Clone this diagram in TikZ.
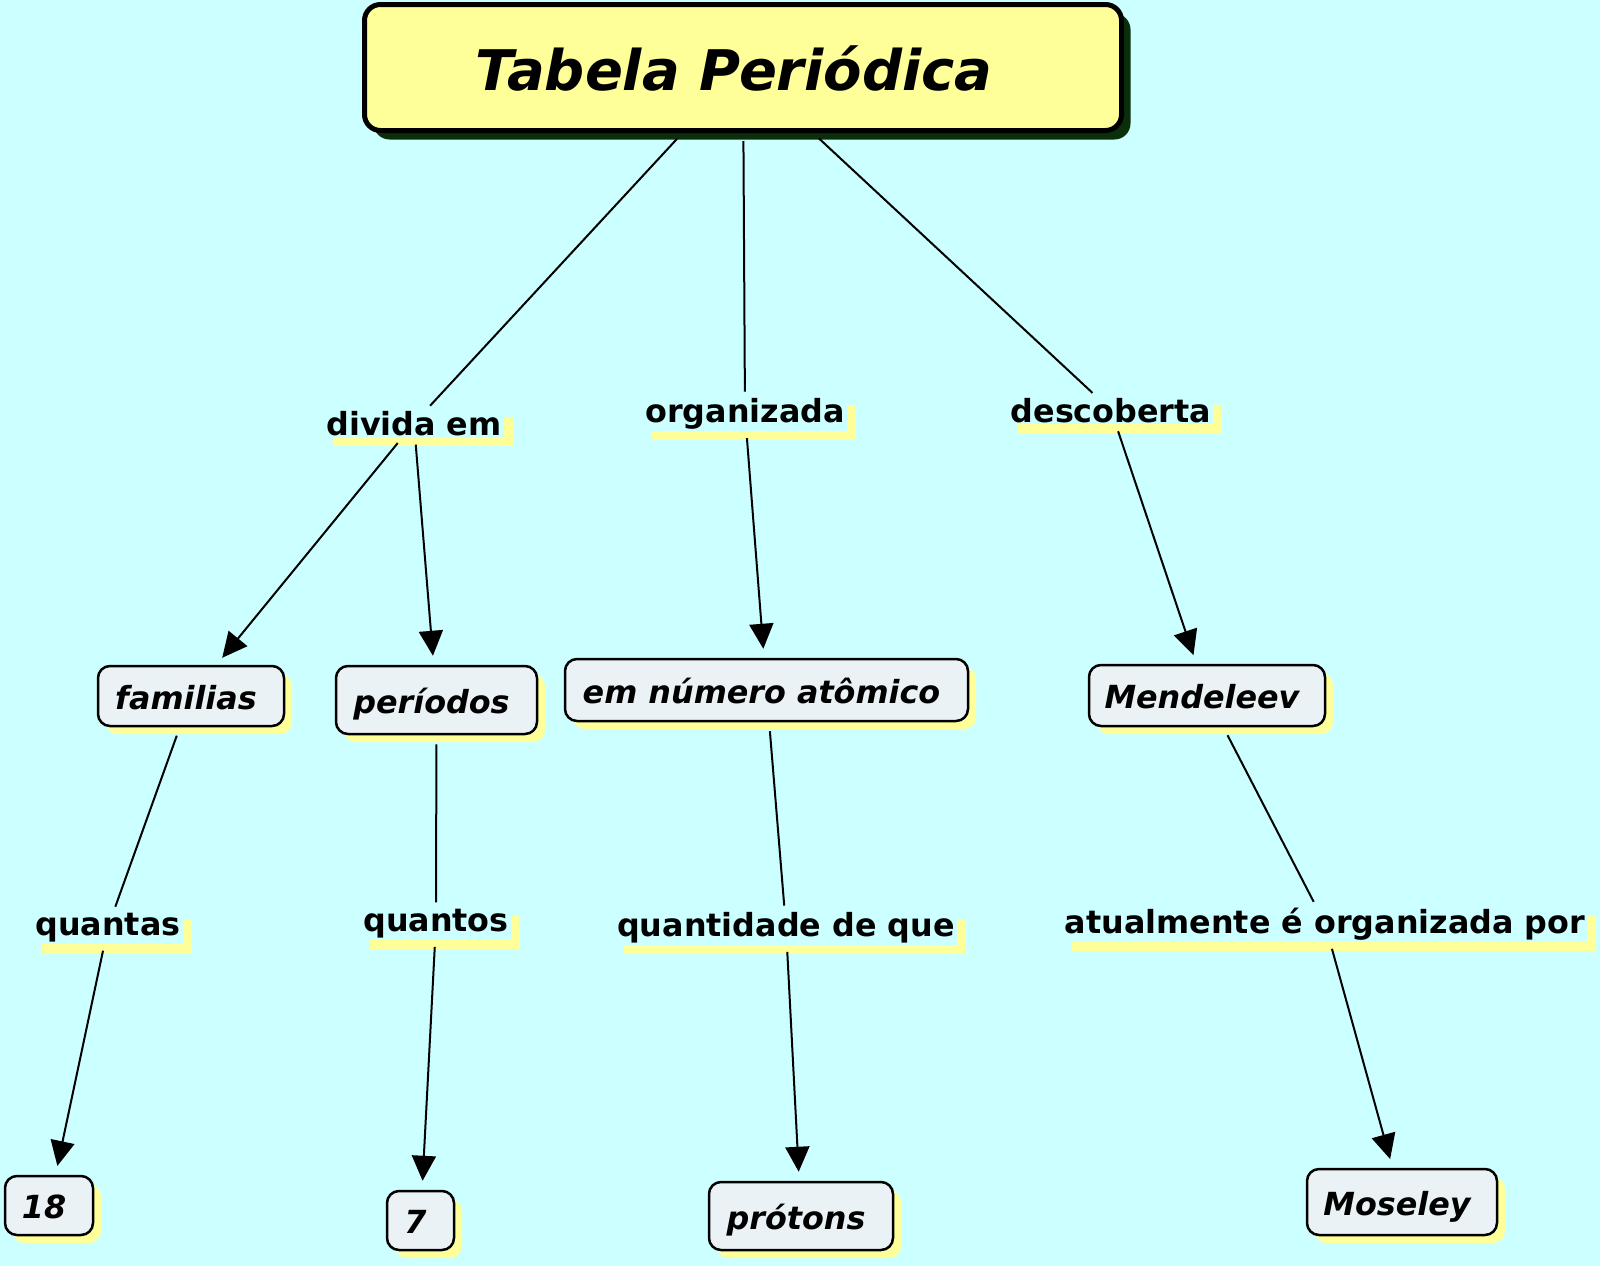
\documentclass[tikz,border=0pt]{standalone}
\usepackage{fontspec}
\setmainfont{DejaVu Sans}
\usetikzlibrary{shadows,arrows.meta}
\definecolor{bgc}{HTML}{CCFFFF}
\definecolor{titlefill}{HTML}{FFFF99}
\definecolor{titleshadow}{HTML}{0B2E0B}
\definecolor{conceptfill}{HTML}{EBF2F5}
\definecolor{ylw}{HTML}{FFFF99}
\begin{document}
\begin{tikzpicture}[x=1pt,y=-1pt,
  labelfont/.style={font=\fontsize{31.8}{38}\selectfont\bfseries},
  titlebox/.style={draw=black, line width=5pt, rounded corners=16pt, fill=titlefill,
    minimum width=757pt, minimum height=126pt, inner sep=0pt,
    font=\fontsize{56}{66}\selectfont\bfseries\itshape, text height=45pt, text depth=0pt,
    execute at begin node={\hspace*{-18pt}},
    general shadow={fill=titleshadow, shadow xshift=9pt, shadow yshift=-9pt}},
  concept/.style={draw=black, line width=2.5pt, rounded corners=12pt, fill=conceptfill,
    font=\fontsize{31.8}{38}\selectfont\bfseries\itshape, inner sep=0pt,
    text height=26pt, text depth=0pt,
    execute at begin node={\hspace*{-10pt}},
    general shadow={fill=ylw, shadow xshift=8pt, shadow yshift=-8pt}},
  linklabel/.style={labelfont, fill=bgc, inner xsep=2pt, inner ysep=2pt, anchor=base,
    general shadow={fill=ylw, shadow xshift=9pt, shadow yshift=-9pt}},
  conn/.style={line width=2pt, draw=black},
  arr/.style={conn, -{Triangle[length=25pt,width=24pt]}}]

\useasboundingbox[fill=bgc] (0,0) rectangle (1600,1266);

% title
\node[titlebox] (title) at (743,67.5) {Tabela Periódica};

% link labels
\node[linklabel] (divida) at (414,435) {divida em};
\node[linklabel] (organ) at (745,422) {organizada};
\node[linklabel] (desc) at (1111,422) {descoberta};
\node[linklabel] (quantas) at (108,935) {quantas};
\node[linklabel] (quantos) at (436,931) {quantos};
\node[linklabel] (qtd) at (786,936) {quantidade de que};
\node[linklabel] (atual) at (1325,933) {atualmente é organizada por};

% concepts
\node[concept, minimum width=186pt, minimum height=60pt] (fam) at (191,696) {familias};
\node[concept, minimum width=201pt, minimum height=68pt] (per) at (436.5,700) {períodos};
\node[concept, minimum width=403pt, minimum height=62pt] (num) at (766.5,690) {em número atômico};
\node[concept, minimum width=236pt, minimum height=61pt] (mend) at (1207,695.5) {Mendeleev};
\node[concept, minimum width=88pt, minimum height=59pt] (n18) at (49,1205.5) {18};
\node[concept, minimum width=67pt, minimum height=59pt] (n7) at (420.5,1220.5) {7};
\node[concept, minimum width=184pt, minimum height=68pt] (prot) at (801,1216) {prótons};
\node[concept, minimum width=190pt, minimum height=66pt] (mos) at (1402,1202) {Moseley};

% connectors
\draw[conn, shorten <=8pt, shorten >=4pt] (title) -- (divida);
\draw[conn, shorten <=8pt, shorten >=4pt] (title) -- (organ);
\draw[conn, shorten <=8pt, shorten >=4pt] (title) -- (desc);

\draw[arr, shorten <=7pt, shorten >=9pt] (divida) -- (fam);
\draw[arr, shorten <=7pt, shorten >=9pt] (divida) -- (per);
\draw[arr, shorten <=7pt, shorten >=9pt] (organ) -- (num);
\draw[arr, shorten <=7pt, shorten >=9pt] (desc) -- (mend);

\draw[conn, shorten <=9pt, shorten >=4pt] (fam) -- (quantas);
\draw[conn, shorten <=9pt, shorten >=4pt] (per) -- (quantos);
\draw[conn, shorten <=9pt, shorten >=4pt] (num) -- (qtd);
\draw[conn, shorten <=9pt, shorten >=4pt] (mend) -- (atual);

\draw[arr, shorten <=7pt, shorten >=9pt] (quantas) -- (n18);
\draw[arr, shorten <=7pt, shorten >=9pt] (quantos) -- (n7);
\draw[arr, shorten <=7pt, shorten >=9pt] (qtd) -- (prot);
\draw[arr, shorten <=7pt, shorten >=9pt] (atual) -- (mos);
\end{tikzpicture}
\end{document}
